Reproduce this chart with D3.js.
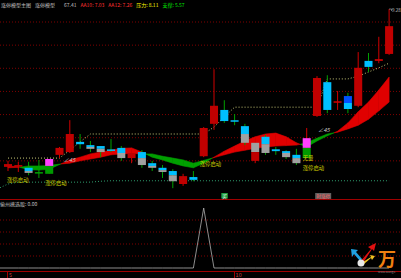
<!DOCTYPE html>
<html><head><meta charset="utf-8">
<script src="https://cdn.jsdelivr.net/npm/d3@7/dist/d3.min.js"></script>
<style>
body{margin:0;background:#000;overflow:hidden}
text{font-family:"Noto Sans CJK SC","Noto Sans",sans-serif}
</style></head><body>
<svg id="chart" width="401" height="278"></svg>
<script>
// candles
var highs  = [6.00,5.98,5.98,6.02,6.04,6.30,6.88,6.58,6.43,6.32,6.47,6.32,6.21,6.23,6.00,5.91,5.82,5.72,5.78,6.73,7.98,7.31,7.01,6.80,6.43,6.56,6.30,6.23,6.26,6.71,7.83,7.85,7.51,7.47,8.35,8.33,8.68,9.28]
var opens  = [5.87,5.89,5.85,5.74,5.72,6.13,6.19,6.41,6.34,6.32,6.23,6.28,6.06,6.19,5.95,5.85,5.78,5.50,5.65,6.10,6.80,7.10,6.86,6.75,6.39,6.52,6.25,6.21,6.13,6.06,6.97,7.70,7.27,7.40,7.19,8.16,8.16,8.31]
var closes = [5.93,5.89,5.74,5.74,6.04,6.28,6.58,6.36,6.26,6.19,6.23,6.06,6.17,5.91,5.85,5.76,5.56,5.67,5.59,6.71,7.19,6.86,6.86,6.39,6.00,6.17,6.21,6.08,5.95,6.49,7.79,7.10,7.27,7.12,8.01,8.03,8.18,8.91]
var lows   = [5.78,5.76,5.69,5.63,5.72,6.06,6.17,6.26,6.19,6.08,6.19,6.00,5.95,5.85,5.78,5.63,5.41,5.46,5.56,6.08,6.67,6.82,6.77,6.34,5.95,6.13,6.13,6.04,5.91,6.06,6.95,7.03,7.10,7.03,7.16,7.92,8.11,8.29]
// where two-tone bodies change colour
var splits = [null,null,5.78,null,5.89,null,null,null,6.30,6.26,null,6.17,null,6.06,5.89,5.80,5.69,null,null,null,null,null,null,6.58,6.19,6.36,null,6.17,6.06,6.28,null,null,null,7.25,null,null,null,null]
var styles = ['r','xr','cg','xg','mg','r','r','c','cg','cg','xc','cg','r','cg','cg','cg','cg','r','c','r','r','c','xc','cg','gr','cg','c','cg','cg','mg','r','c','xr','bc','r','c','xr','r']

// ribbon lines, resistance and support
var fast = [5.89,5.87,5.81,5.80,5.82,5.92,6.02,6.08,6.15,6.19,6.23,6.27,6.28,6.19,6.08,6.02,5.95,5.89,5.85,5.95,6.08,6.21,6.32,6.43,6.52,6.58,6.60,6.52,6.39,6.30,6.43,6.54,6.64,6.82,7.06,7.27,7.53,7.81]
var slow = [5.85,5.86,5.89,5.89,5.90,5.93,5.95,6.00,6.04,6.08,6.13,6.15,6.16,6.15,6.15,6.10,6.06,6.02,5.95,6.01,6.07,6.13,6.19,6.23,6.27,6.30,6.32,6.33,6.34,6.39,6.49,6.58,6.62,6.69,6.77,6.90,7.08,7.27]
var resist = [6.06,6.06,6.06,6.06,6.06,6.06,6.23,6.41,6.58,6.58,6.58,6.58,6.58,6.58,6.58,6.58,6.58,6.58,6.58,6.58,6.73,6.95,7.16,7.16,7.16,7.16,7.16,7.16,7.16,7.16,7.16,7.77,7.77,7.77,7.83,7.92,8.01,8.11]
var support = [5.50,5.54,5.54,5.54,5.54,5.54,5.54,5.54,5.54,5.56,5.57,5.57,5.57,5.57,5.57,5.57,5.57,5.57,5.57,5.57,5.57,5.57,5.57,5.57,5.57,5.57,5.57,5.57,5.57,5.57,5.57,5.57,5.57,5.57,5.57,5.57,5.57,5.57]

// lower panel signal
var signal = [0,0,0,0,0,0,0,0,0,0,0,0,0,0,0,0,0,0,0,1,0,0,0,0,0,0,0,0,0,0,0,0,0,0,0,0,0,0]

var legendLabels = ['涨停模型主图', '涨停模型', '67.41', 'AA10: 7.03', 'AA12: 7.26', '压力: 8.11', '支撑: 5.57']
var legendColors = ['#c0c0c0', '#c0c0c0', '#c0c0c0', '#ff3030', '#ff3030', '#ffff00', '#00e000']
var noteIdx   = [0, 4, 19, 29, 29]
var notePrice = [5.55, 5.47, 5.88, 6.01, 5.81]
var noteText  = ['涨停启动', '涨停启动', '涨停启动', '无量', '涨停启动']
var angleIdx = [5.4, 30.1], anglePrice = [5.98, 6.63]
var dateIdx = [0, 22], dateLabels = ['5', '10']

var n = highs.length
var svg = d3.select('#chart')
svg.append('rect').attr('width', 401).attr('height', 278).attr('fill', '#000')

var x = d3.scaleBand().domain(d3.range(n)).range([2.85, 394.25]).paddingInner(0.22).paddingOuter(0.11)
var bw = x.bandwidth()
var cx = i => x(i) + bw / 2
var xi = k => cx(0) + k * x.step()
var y = d3.scaleLinear().domain([5.5, 9]).range([184, 22])
var y2 = d3.scaleLinear().domain([0, 1]).range([268, 208])

// grid
svg.selectAll('line.g1').data(d3.range(6, 9.01, .5)).join('line')
  .attr('x1', 0).attr('x2', 401).attr('y1', d => y(d)).attr('y2', d => y(d))
  .attr('stroke', '#800000').attr('stroke-dasharray', '1,2')
svg.selectAll('line.g2').data([.2, .4, .6, .8]).join('line')
  .attr('x1', 0).attr('x2', 401).attr('y1', d => y2(d)).attr('y2', d => y2(d))
  .attr('stroke', '#800000').attr('stroke-dasharray', '1,2')
svg.append('line').attr('x1', 0).attr('x2', 401).attr('y1', 199.5).attr('y2', 199.5).attr('stroke', '#a00000')
svg.append('line').attr('x1', 0).attr('x2', 401).attr('y1', 271.5).attr('y2', 271.5).attr('stroke', '#a00000')

// ribbon between fast and slow line
var segs = []
for (var i = 0; i < n - 1; i++){
  var d0 = fast[i] - slow[i], d1 = fast[i + 1] - slow[i + 1]
  if (d0 * d1 < 0){
    var t = d0 / (d0 - d1), pm = fast[i] + (fast[i + 1] - fast[i]) * t
    segs.push({up: d0 > 0, pts: [[i, fast[i]], [i + t, pm], [i, slow[i]]]})
    segs.push({up: d1 > 0, pts: [[i + t, pm], [i + 1, fast[i + 1]], [i + 1, slow[i + 1]]]})
  } else {
    segs.push({up: d0 + d1 > 0, pts: [[i, fast[i]], [i + 1, fast[i + 1]], [i + 1, slow[i + 1]], [i, slow[i]]]})
  }
}
svg.selectAll('polygon.rib').data(segs).join('polygon')
  .attr('points', d => d.pts.map(p => [xi(p[0]), y(p[1])].join(',')).join(' '))
  .attr('fill', d => d.up ? '#e00000' : '#00a000')
  .attr('stroke', d => d.up ? '#e00000' : '#00a000').attr('stroke-width', .6)

// resistance / support dotted lines
var line = arr => d3.line().x((d, i) => cx(i)).y(d => y(d))(arr)
svg.append('path').attr('d', line(resist)).attr('fill', 'none')
  .attr('stroke', '#c8c878').attr('stroke-dasharray', '1,2')
svg.append('path').attr('d', 'M0,' + y(5.42) + 'L' + line(support).slice(1)).attr('fill', 'none')
  .attr('stroke', '#30a070').attr('stroke-dasharray', '1,2')

// candles
var colors = {r: ['#c00000'], c: ['#00c0ff'], cg: ['#00c0ff', '#a0a0a0'], mg: ['#ff40ff', '#009a00'],
  gr: ['#a0a0a0', '#c00000'], bc: ['#0050ff', '#00c0ff'], xr: ['#d00000'], xg: ['#00a000'], xc: ['#00c0ff']}
var redWick = s => s == 'r' || s == 'xr' || s == 'gr' || s == 'mg'
var g = svg.selectAll('g.k').data(d3.range(n)).join('g')
g.append('line').attr('x1', cx).attr('x2', cx)
  .attr('y1', i => y(highs[i])).attr('y2', i => y(lows[i]))
  .attr('stroke', i => redWick(styles[i]) ? '#d00000' : '#00a000')
g.each(function(i){
  var s = styles[i], sel = d3.select(this)
  var top = Math.max(opens[i], closes[i]), bot = Math.min(opens[i], closes[i])
  if (s[0] == 'x'){
    sel.append('rect').attr('x', x(i)).attr('width', bw)
      .attr('y', y(top) - .8).attr('height', Math.max(1.5, y(bot) - y(top) + .8))
      .attr('fill', colors[s][0])
    return
  }
  var parts = splits[i] == null ? [[top, bot]] : [[top, splits[i]], [splits[i], bot]]
  parts.forEach((p, k) => sel.append('rect').attr('x', x(i)).attr('width', bw)
    .attr('y', y(p[0])).attr('height', Math.max(1.5, y(p[1]) - y(p[0])))
    .attr('fill', colors[s][k]))
})

// max marker
var im = d3.maxIndex(highs)
svg.append('path').attr('d', 'M' + cx(im) + ',' + y(highs[im]) + 'h2.5v2').attr('stroke', '#c0c0c0').attr('fill', 'none').attr('stroke-width', .6)
svg.append('text').attr('x', cx(im) + 3).attr('y', y(highs[im]) + 2.5).text(highs[im].toFixed(2))
  .attr('fill', '#c0c0c0').attr('font-size', 4.5)

// notes
svg.selectAll('text.note').data(noteText).join('text')
  .attr('x', (d, i) => x(noteIdx[i]) + (i == 0 ? 3 : 0)).attr('y', (d, i) => y(notePrice[i]))
  .text(d => d).attr('fill', '#d0d000').attr('font-size', 5.4)
svg.selectAll('text.ang').data(angleIdx).join('text')
  .attr('x', d => xi(d)).attr('y', (d, i) => y(anglePrice[i]))
  .text('∠45').attr('fill', '#d0d0d0').attr('font-size', 5.5).attr('font-style', 'italic')

// legend
var lx = 1
legendLabels.forEach((t, i) => {
  var tx = svg.append('text').attr('x', lx).attr('y', 7).text(t)
    .attr('fill', legendColors[i]).attr('font-size', 5)
  lx += tx.node().getComputedTextLength() + (i == 1 ? 9 : 4)
})

// lower panel
svg.append('text').attr('x', 0).attr('y', 206).text('偷州擒选股: 0.00').attr('fill', '#c0c0c0').attr('font-size', 5)
svg.append('path').attr('d', 'M0,' + y2(0) + 'L' + d3.line().x((d, i) => cx(i)).y(d => y2(d))(signal).slice(1))
  .attr('fill', 'none').attr('stroke', '#b0b0b0').attr('stroke-width', .8)

// buy / sell boxes at the panel edge
var bi = 21
svg.append('rect').attr('x', cx(bi) - 3).attr('y', 193).attr('width', 6.5).attr('height', 5.5).attr('fill', '#20a040')
svg.append('text').attr('x', cx(bi) + .2).attr('y', 197.6).attr('text-anchor', 'middle').text('买').attr('fill', '#fff').attr('font-size', 4.5)
var si = 30.6
svg.append('rect').attr('x', xi(si) - 8).attr('y', 193).attr('width', 16).attr('height', 6).attr('fill', '#606060')
svg.append('text').attr('x', xi(si)).attr('y', 197.8).attr('text-anchor', 'middle').text('时涨停').attr('fill', '#ff6060').attr('font-size', 4.5)

// date axis
svg.selectAll('line.dt').data(dateIdx).join('line')
  .attr('x1', d => Math.round(cx(d)) - .5).attr('x2', d => Math.round(cx(d)) - .5).attr('y1', 271).attr('y2', 278).attr('stroke', '#a00000')
svg.selectAll('text.dt').data(dateLabels).join('text')
  .attr('x', (d, i) => cx(dateIdx[i]) + 1).attr('y', 276.5).text(d => d).attr('fill', '#c04040').attr('font-size', 5.5)

// corner logo
var lg = svg.append('g')
lg.append('path').attr('d', 'M360,262 L371,249 L368,247 L376,243 L374,251 L372,249 L363,263Z').attr('fill', '#e01010')
lg.append('path').attr('d', 'M360,261 L354,254 L352,257 L351,249 L358,250 L356,252 L362,259Z').attr('fill', '#20a0e0')
lg.append('path').attr('d', 'M363,262 L371,257 L370,255 L375,256 L372,260 L371,258 L364,264Z').attr('fill', '#f0c020')
lg.append('circle').attr('cx', 361).attr('cy', 263).attr('r', 3.5).attr('fill', '#e8e8e8')
lg.append('text').attr('x', 378).attr('y', 266).text('万').attr('fill', '#f08010').attr('font-size', 18).attr('font-weight', 'bold')
lg.append('text').attr('x', 378).attr('y', 273).text('www.wangu').attr('fill', '#808080').attr('font-size', 3)
</script>
</body></html>
